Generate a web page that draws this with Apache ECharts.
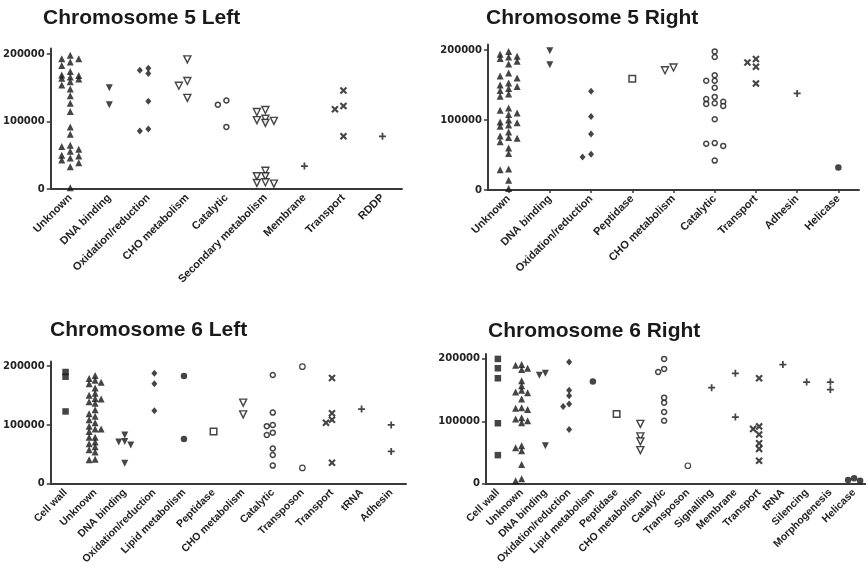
<!DOCTYPE html>
<html>
<head>
<meta charset="utf-8">
<title>Chromosome 5 / 6 gene function plots</title>
<script src="https://cdn.jsdelivr.net/npm/echarts@6/dist/echarts.min.js"></script>
<style>
  html, body { margin: 0; padding: 0; background: #fff; }
  #main { width: 866px; height: 567px; }
</style>
</head>
<body>
<div id="main"></div>
<script>
// ---- data ----
const yTicks = [0, 100000, 200000]
const yMax = 208000

const chr5LeftCategories = ['Unknown', 'DNA binding', 'Oxidation/reduction', 'CHO metabolism', 'Catalytic',
  'Secondary metabolism', 'Membrane', 'Transport', 'RDDP']
const chr5LeftValues = [
  [198000, 183000, 166000, 154000, 138000, 115000, 81000, 59000, 46000, 33000, 2000,
    193000, 188000, 174000, 169000, 164000, 159000, 127000, 63000, 56000, 50000, 39000,
    193000, 168000, 163000, 148000, 92000, 65000, 49000, 43000],
  [150000, 125000],
  [179000, 176000, 171000, 130000, 89000, 86000],
  [192000, 160000, 153000, 135000],
  [131000, 125000, 92000],
  [117000, 114000, 104000, 102000, 101000, 98000, 27000, 19000, 19000, 10000, 9000, 8000],
  [34000],
  [146000, 123000, 118000, 78000],
  [78000]
]

const chr5RightCategories = ['Unknown', 'DNA binding', 'Oxidation/reduction', 'Peptidase', 'CHO metabolism',
  'Catalytic', 'Transport', 'Adhesin', 'Helicase']
const chr5RightValues = [
  [198000, 188000, 163000, 153000, 145000, 137000, 117000, 108000, 96000, 93000, 75000, 30000,
    194000, 190000, 180000, 160000, 148000, 134000, 110000, 97000, 83000, 69000, 52000, 29000, 2000,
    191000, 184000, 167000, 150000, 142000, 114000, 100000, 91000, 74000, 60000, 14000, 77000],
  [199000, 179000],
  [141000, 105000, 80000, 51000, 47000],
  [159000],
  [175000, 171000],
  [198000, 190000, 164000, 156000, 156000, 146000, 133000, 130000, 126000, 124000, 123000, 120000,
    101000, 67000, 66000, 63000, 42000],
  [187000, 182000, 176000, 152000],
  [138000],
  [32000]
]

const chr6LeftCategories = ['Cell wall', 'Unknown', 'DNA binding', 'Oxidation/reduction', 'Lipid metabolism',
  'Peptidase', 'CHO metabolism', 'Catalytic', 'Transposon', 'Transport', 'tRNA', 'Adhesin']
const chr6LeftValues = [
  [190000, 182000, 123000],
  [184000, 179000, 176000, 172500, 170000, 163000, 154000, 150500, 145000, 144000, 139500, 137000,
    126000, 119000, 115000, 109000, 104000, 98000, 93000, 93000, 89000, 79000, 79000, 71000, 68000,
    63000, 58000, 54000, 42000, 41000],
  [83000, 72000, 71000, 66000, 35000],
  [188000, 170000, 124000],
  [183000, 76000],
  [89000],
  [138000, 118000],
  [185000, 121000, 100000, 98000, 87000, 83000, 60000, 49000, 31000],
  [199000, 27000],
  [180000, 120000, 109000, 104000, 36000],
  [127000],
  [100000, 55000]
]

const chr6RightCategories = ['Cell wall', 'Unknown', 'DNA binding', 'Oxidation/reduction', 'Lipid metabolism',
  'Peptidase', 'CHO metabolism', 'Catalytic', 'Transposon', 'Signalling', 'Membrane', 'Transport', 'tRNA',
  'Silencing', 'Morphogenesis', 'Helicase']
const chr6RightValues = [
  [200000, 185000, 169000, 97000, 46000],
  [191000, 190000, 185000, 183000, 165000, 157000, 150000, 147000, 146000, 136000, 122000, 121000,
    119000, 106000, 104000, 101000, 98000, 61000, 58000, 53000, 31000, 8000, 5000],
  [177000, 174000, 61000],
  [195000, 150000, 141000, 128000, 124000, 87000],
  [164000],
  [112000],
  [96000, 76000, 68000, 54000],
  [200000, 184000, 179000, 138000, 130000, 115000, 101000],
  [29000],
  [154000],
  [177000, 107000],
  [169000, 92000, 88000, 79000, 65000, 56000, 37000],
  [191000],
  [163000],
  [163000, 151000],
  [9000, 6000, 5000]
]

// ---- styling ----
const INK = '#161616'
const AXIS = '#3a3a3a'
const PLUS = 'path://M3,0h2v3h3v2h-3v3h-2v-3h-3v-2h3z'

const markers = {
  triUp: { symbol: 'triangle', symbolSize: 7, itemStyle: { color: INK } },
  triDown: { symbol: 'triangle', symbolRotate: 180, symbolSize: 7, itemStyle: { color: INK } },
  diamond: { symbol: 'diamond', symbolSize: [6, 7], itemStyle: { color: INK } },
  openTriDown: { symbol: 'triangle', symbolRotate: 180, symbolSize: 7,
    itemStyle: { color: '#fff', borderColor: INK, borderWidth: 1.4 } },
  openRing: { symbol: 'circle', symbolSize: 5, itemStyle: { color: '#fff', borderColor: INK, borderWidth: 1.5 } },
  plus: { symbol: PLUS, symbolSize: 7, itemStyle: { color: INK } },
  cross: { symbol: PLUS, symbolRotate: 45, symbolSize: 8.5, itemStyle: { color: INK } },
  openSquare: { symbol: 'rect', symbolSize: 6.5, itemStyle: { color: '#fff', borderColor: INK, borderWidth: 1.5 } },
  square: { symbol: 'rect', symbolSize: 6.5, itemStyle: { color: INK } },
  dot: { symbol: 'circle', symbolSize: 6.5, itemStyle: { color: INK } },
  openCircle: { symbol: 'circle', symbolSize: 5.5, itemStyle: { color: '#fff', borderColor: INK, borderWidth: 1.2 } }
}

const markerOf = {
  'Unknown': 'triUp',
  'DNA binding': 'triDown',
  'Oxidation/reduction': 'diamond',
  'CHO metabolism': 'openTriDown',
  'Secondary metabolism': 'openTriDown',
  'Catalytic': 'openRing',
  'Membrane': 'plus',
  'RDDP': 'plus',
  'Adhesin': 'plus',
  'tRNA': 'plus',
  'Signalling': 'plus',
  'Silencing': 'plus',
  'Morphogenesis': 'plus',
  'Transport': 'cross',
  'Peptidase': 'openSquare',
  'Cell wall': 'square',
  'Lipid metabolism': 'dot',
  'Helicase': 'dot',
  'Transposon': 'openCircle'
}

const panels = [
  { title: 'Chromosome 5 Left', titlePos: [43, 8], cats: chr5LeftCategories, values: chr5LeftValues,
    grid: { left: 50, top: 48.6, width: 352, height: 140.4 }, step: 8.5, minDy: 5, font: 11, xTicks: false },
  { title: 'Chromosome 5 Right', titlePos: [486, 8], cats: chr5RightCategories, values: chr5RightValues,
    grid: { left: 488, top: 44.4, width: 371, height: 145.6 }, step: 8.5, minDy: 5, font: 11, xTicks: true },
  { title: 'Chromosome 6 Left', titlePos: [50, 320], cats: chr6LeftCategories, values: chr6LeftValues,
    grid: { left: 50, top: 361.4, width: 356, height: 126.3 }, step: 6, minDy: 4.5, font: 10.5, xTicks: false },
  { title: 'Chromosome 6 Right', titlePos: [488, 321], cats: chr6RightCategories, values: chr6RightValues,
    grid: { left: 486, top: 353.9, width: 384, height: 133.8 }, step: 6, minDy: 4.5, font: 10.5, xTicks: false }
]
const MAX_SLOT = 1

/**
 * Spread points of one column sideways (simple beeswarm, at most MAX_SLOT columns each side).
 * Returns a horizontal pixel offset for every value.
 */
function spread(values, pxPerUnit, step, minDy) {
  const order = values.map((v, i) => i).sort((a, b) => values[b] - values[a])
  const placed = []
  const offsets = new Array(values.length).fill(0)
  const slots = [0]
  for (let s = 1; s <= MAX_SLOT; s++) slots.push(-s, s)
  order.forEach(i => {
    const y = values[i] * pxPerUnit
    let best = 0
    let bestGap = -1
    for (const slot of slots) {
      const gap = placed.filter(p => p.slot === slot)
        .reduce((m, p) => Math.min(m, Math.abs(p.y - y)), Infinity)
      if (gap >= minDy) { best = slot; bestGap = Infinity; break }
      if (gap > bestGap) { best = slot; bestGap = gap }
    }
    placed.push({ slot: best, y })
    offsets[i] = best * step
  })
  return offsets
}

const title = []
const grid = []
const xAxis = []
const yAxis = []
const series = []

panels.forEach((p, pi) => {
  title.push({
    text: p.title, left: p.titlePos[0], top: p.titlePos[1], padding: 0,
    textStyle: { fontSize: 21, fontWeight: 'bold', color: '#1a1a1a', fontFamily: 'Liberation Sans, Arial, sans-serif' }
  })
  grid.push(Object.assign({ containLabel: false }, p.grid))
  xAxis.push({
    type: 'category', gridIndex: pi, data: p.cats, boundaryGap: true,
    axisLine: { lineStyle: { color: AXIS, width: 2 } },
    axisTick: { show: p.xTicks, alignWithLabel: true, length: 3, lineStyle: { color: AXIS, width: 1.5 } },
    axisLabel: {
      rotate: 45, interval: 0, margin: 7, fontSize: p.font, fontWeight: 'bold', color: '#222',
      fontFamily: 'Liberation Sans, Arial, sans-serif'
    },
    splitLine: { show: false }
  })
  yAxis.push({
    type: 'value', gridIndex: pi, min: 0, max: yMax, interval: 100000,
    axisLine: { show: true, lineStyle: { color: AXIS, width: 2 } },
    axisTick: { show: true, length: 4, customValues: yTicks, lineStyle: { color: AXIS, width: 1.5 } },
    axisLabel: {
      customValues: yTicks, margin: 6, fontSize: 10, fontWeight: 'bold', color: '#222',
      fontFamily: 'DejaVu Sans, sans-serif',
      formatter: v => String(v)
    },
    splitLine: { show: false }
  })
  const pxPerUnit = p.grid.height / yMax
  p.cats.forEach((cat, ci) => {
    const vals = p.values[ci]
    const offs = spread(vals, pxPerUnit, p.step, p.minDy)
    const m = markers[markerOf[cat]]
    series.push(Object.assign({
      type: 'scatter', name: p.title + ' ' + cat, xAxisIndex: pi, yAxisIndex: pi,
      silent: true, emphasis: { disabled: true },
      data: vals.map((v, i) => ({ value: [cat, v], symbolOffset: [offs[i], 0] }))
    }, m))
  })
})

const chart = echarts.init(document.getElementById('main'), null, { renderer: 'canvas' })
chart.setOption({
  backgroundColor: '#fff',
  animation: false,
  title, grid, xAxis, yAxis, series
})
</script>
</body>
</html>
